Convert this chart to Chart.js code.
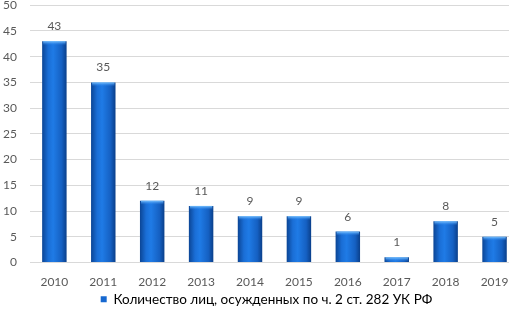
<!DOCTYPE html>
<html>
<head>
<meta charset="utf-8">
<script src="https://cdn.jsdelivr.net/npm/chart.js@4.4.1/dist/chart.umd.min.js"></script>
<style>
  html, body { margin: 0; padding: 0; background: #fff; overflow: hidden; }
  #wrap { position: absolute; left: -10px; top: -15px; width: 555px; height: 331px; }
</style>
</head>
<body>
<div id="wrap"><canvas id="chart"></canvas></div>
<script>
const years = ['2010', '2011', '2012', '2013', '2014', '2015', '2016', '2017', '2018', '2019'];
const convicted = [43, 35, 12, 11, 9, 9, 6, 1, 8, 5];
const seriesName = 'Количество лиц, осужденных по ч. 2 ст. 282 УК РФ';
const yMax = 50;
const yStep = 5;

const FONT = 'Lato, "Open Sans", sans-serif';
const GREY = '#595959';

// cylinder-ish horizontal gradient for each bar
function barFill(c) {
  const chart = c.chart;
  const xs = chart.scales.x;
  if (!xs || !chart.chartArea) return '#1668d0';
  const cx = xs.getPixelForValue(c.dataIndex);
  const half = xs.width / years.length * 0.25;
  const g = chart.ctx.createLinearGradient(cx - half, 0, cx + half, 0);
  g.addColorStop(0, '#0b4595');
  g.addColorStop(0.25, '#1a6ed6');
  g.addColorStop(0.45, '#1f7be6');
  g.addColorStop(0.8, '#1560c2');
  g.addColorStop(1, '#0a3f8a');
  return g;
}

// value labels and top bevel
const barDecor = {
  id: 'barDecor',
  afterLayout(chart) {
    // legend sits a bit right of centre in the original
    chart.legend.left += 12;
    chart.legend.right += 12;
  },
  afterDatasetsDraw(chart) {
    const ctx = chart.ctx;
    const meta = chart.getDatasetMeta(0);
    ctx.save();
    meta.data.forEach((bar, i) => {
      const left = bar.x - bar.width / 2;
      const g = ctx.createLinearGradient(0, bar.y, 0, bar.y + 4);
      g.addColorStop(0, '#7cc4ff');
      g.addColorStop(1, 'rgba(40,130,235,0)');
      ctx.fillStyle = g;
      ctx.fillRect(left + 1, bar.y, bar.width - 2, Math.min(4, bar.base - bar.y));

      ctx.fillStyle = GREY;
      ctx.font = '12px ' + FONT;
      ctx.textAlign = 'center';
      ctx.textBaseline = 'alphabetic';
      ctx.fillText(String(convicted[i]), bar.x, bar.y - 11);
    });
    ctx.restore();
  }
};

new Chart(document.getElementById('chart'), {
  type: 'bar',
  data: {
    labels: years,
    datasets: [{
      label: seriesName,
      data: convicted,
      backgroundColor: barFill,
      borderWidth: 0,
      barPercentage: 0.5,
      categoryPercentage: 1.0
    }]
  },
  options: {
    responsive: true,
    maintainAspectRatio: false,
    animation: false,
    layout: { padding: { top: 0, right: 26, bottom: 0, left: 0 } },
    scales: {
      x: {
        grid: { display: false, drawTicks: false },
        border: { display: false },
        ticks: { color: GREY, font: { family: FONT, size: 12, lineHeight: 1 }, padding: 14 },
        afterFit(scale) { scale.height -= 11; }
      },
      y: {
        min: 0,
        max: yMax,
        ticks: { stepSize: yStep, color: GREY, font: { family: FONT, size: 12 }, padding: 13 },
        grid: { color: '#d9d9d9', drawTicks: false },
        border: { display: false }
      }
    },
    plugins: {
      legend: {
        position: 'bottom',
        labels: {
          color: GREY,
          font: { family: FONT, size: 13.5 },
          boxWidth: 6,
          boxHeight: 6,
          padding: 1,
          generateLabels: () => [{ text: seriesName, fillStyle: '#1668d0', strokeStyle: '#1668d0', lineWidth: 0 }]
        }
      },
      tooltip: { enabled: false }
    }
  },
  plugins: [barDecor]
});
</script>
</body>
</html>
